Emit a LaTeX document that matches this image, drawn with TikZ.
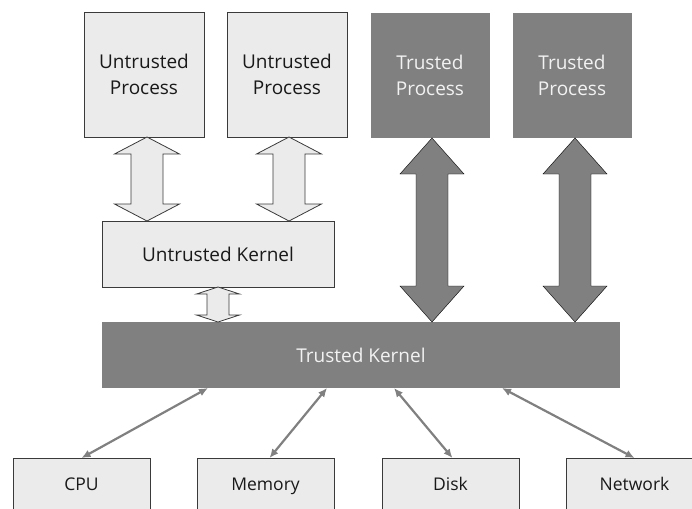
\documentclass[tikz,border=0pt]{standalone}
\usepackage{fontspec}
\setmainfont{Open Sans}
\usetikzlibrary{calc,arrows.meta}

\definecolor{lightbox}{HTML}{EBEBEB}
\definecolor{darkbox}{HTML}{808080}
\definecolor{edgeline}{HTML}{3A3A3A}
\definecolor{lighttext}{HTML}{F2F2F2}

% block double arrow between two vertically aligned points:
% #1 style, #2 top tip, #3 bottom tip, #4 shaft half width, #5 head half width, #6 head length
\newcommand\fatarrow[6]{%
  \draw[#1] (#2) -- ($(#2)+(#5,#6)$) -- ($(#2)+(#4,#6)$)
    -- ($(#3)+(#4,-#6)$) -- ($(#3)+(#5,-#6)$) -- (#3)
    -- ($(#3)+(-#5,-#6)$) -- ($(#3)+(-#4,-#6)$)
    -- ($(#2)+(-#4,#6)$) -- ($(#2)+(-#5,#6)$) -- cycle;}

\tikzset{
  box/.style={rectangle, inner sep=0pt, outer sep=0pt, align=center,
    font=\fontsize{19}{26}\selectfont},
  untrusted/.style={box, draw=edgeline, line width=0.8pt, fill=lightbox, text=black!90},
  trusted/.style={box, fill=darkbox, text=lighttext},
  device/.style={untrusted, minimum width=137pt, minimum height=56pt,
    text height=13pt, text depth=4pt,
    font=\fontsize{17.5}{22}\selectfont},
  lightarrow/.style={draw=edgeline, line width=0.8pt, fill=lightbox, line join=miter},
  darkarrow/.style={fill=darkbox},
  link/.style={draw=darkbox, line width=2.2pt,
    {Latex[length=9pt,width=8pt]}-{Latex[length=9pt,width=8pt]}}
}

\begin{document}
\begin{tikzpicture}[x=1pt,y=-1pt]
  \useasboundingbox (0,0) rectangle (692,508);
  \clip (0,0) rectangle (692,508);

  % processes
  \node[untrusted, minimum width=120pt, minimum height=125pt] (up1) at (144,74.5) {Untrusted\\Process};
  \node[untrusted, minimum width=120pt, minimum height=125pt] (up2) at (287,74.5) {Untrusted\\Process};
  \node[trusted, minimum width=119pt, minimum height=125pt] (tp1) at (430,75.5) {Trusted\\Process};
  \node[trusted, minimum width=119pt, minimum height=125pt] (tp2) at (572,75.5) {Trusted\\Process};

  % kernels
  \node[untrusted, minimum width=232pt, minimum height=66pt] (uk) at (218,254) {Untrusted Kernel};
  \node[trusted, minimum width=518pt, minimum height=66pt] (tk) at (361,355) {Trusted Kernel};

  % hardware
  \node[device] (cpu) at (81.5,486) {CPU};
  \node[device] (mem) at (265.5,486) {Memory};
  \node[device] (disk) at (450.5,486) {Disk};
  \node[device] (net) at (634.5,486) {Network};

  % arrow end points
  \coordinate (a1t) at ([xshift=3pt]up1.south);
  \coordinate (a1b) at (a1t |- uk.north);
  \coordinate (a2t) at ([xshift=2pt]up2.south);
  \coordinate (a2b) at (a2t |- uk.north);
  \coordinate (a3t) at ([xshift=2pt]tp1.south);
  \coordinate (a3b) at (a3t |- tk.north);
  \coordinate (a4t) at ([xshift=3pt]tp2.south);
  \coordinate (a4b) at (a4t |- tk.north);
  \coordinate (a5t) at (uk.south);
  \coordinate (a5b) at (a5t |- tk.north);

  % process <-> kernel channels
  \fatarrow{lightarrow}{a1t}{a1b}{16}{32.5}{17}
  \fatarrow{lightarrow}{a2t}{a2b}{16}{32.5}{17}
  \fatarrow{darkarrow}{a3t}{a3b}{16}{32}{36}
  \fatarrow{darkarrow}{a4t}{a4b}{16}{32}{36}
  \fatarrow{lightarrow}{a5t}{a5b}{11}{21.5}{7}

  % kernel <-> hardware links
  \draw[link] (cpu.north) -- ([xshift=106pt]tk.south west);
  \draw[link] ([xshift=4pt]mem.north) -- ([xshift=225pt]tk.south west);
  \draw[link] ([xshift=2pt]disk.north) -- ([xshift=292pt]tk.south west);
  \draw[link] (net.north) -- ([xshift=400pt]tk.south west);
\end{tikzpicture}
\end{document}
